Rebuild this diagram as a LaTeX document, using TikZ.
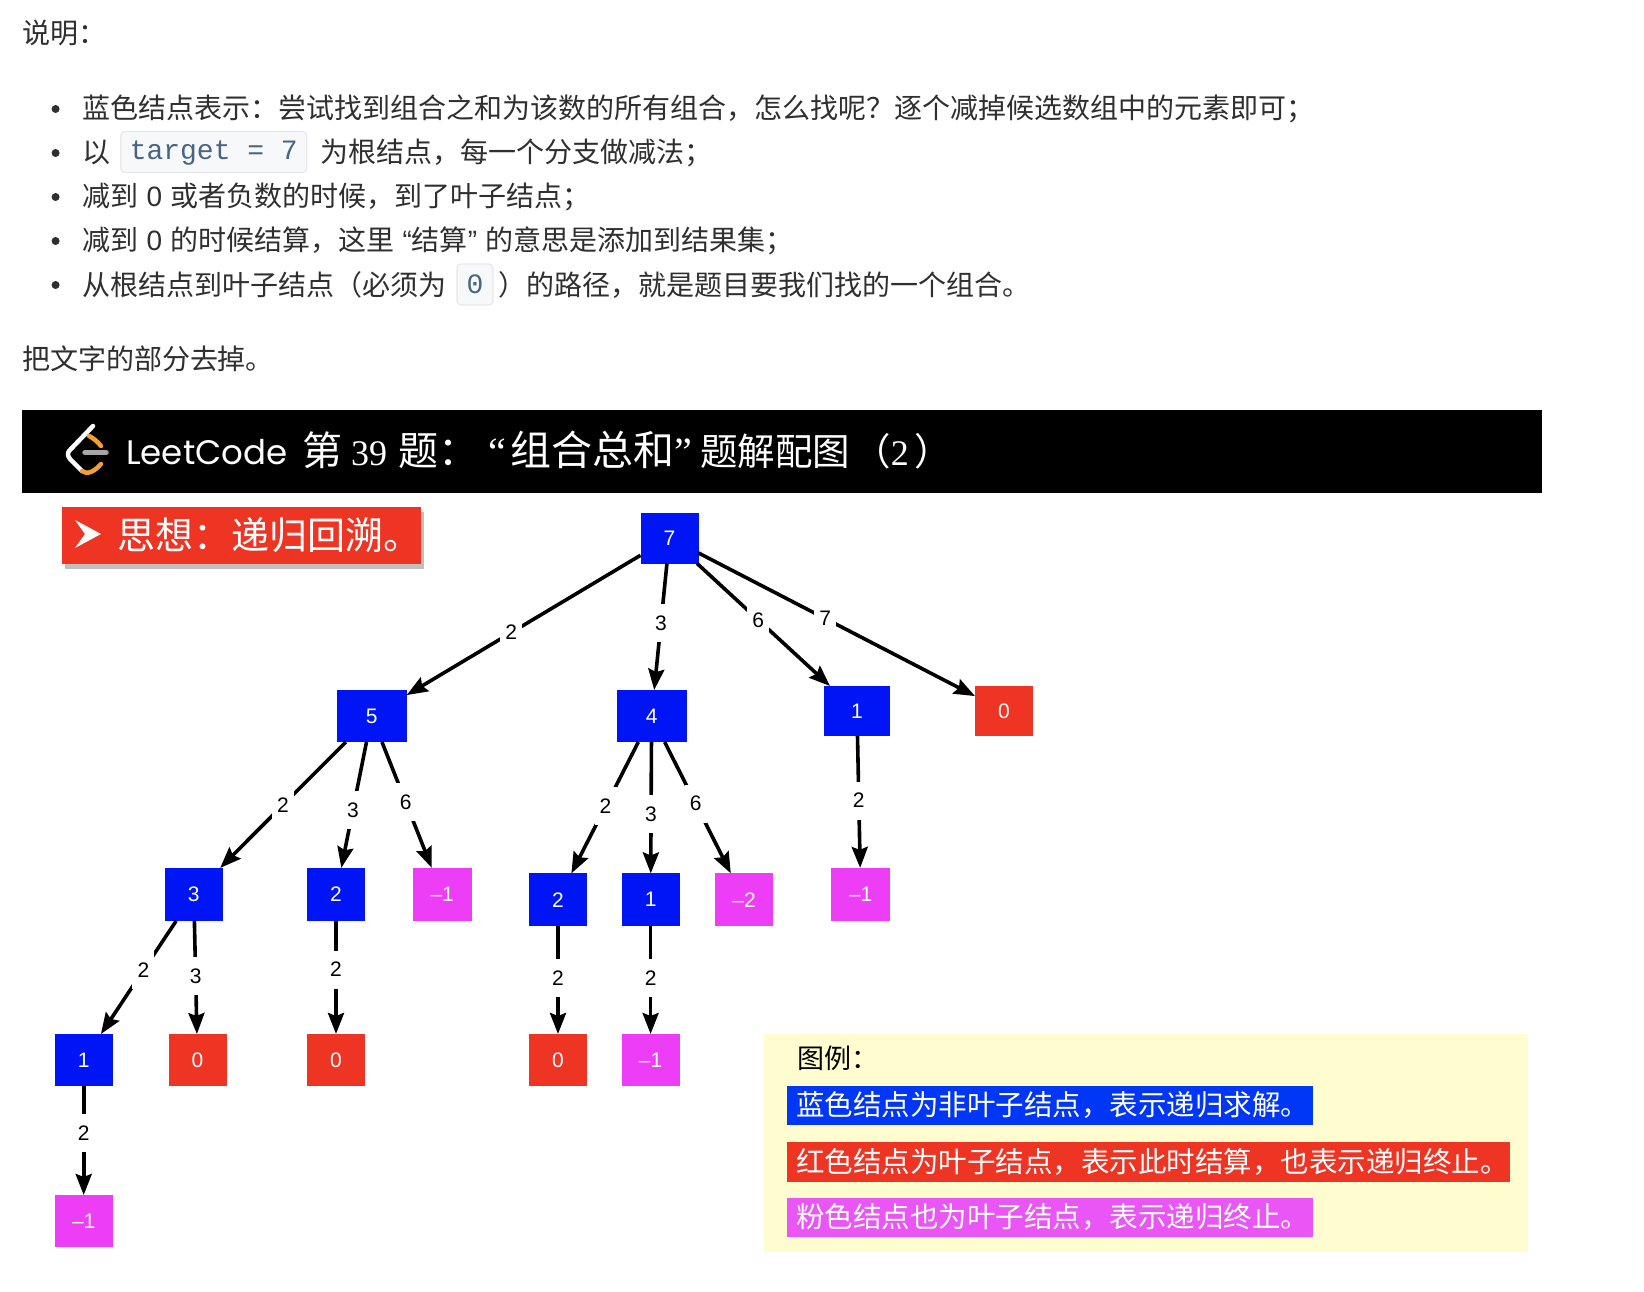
\documentclass[tikz,border=0pt]{standalone}
\usepackage{fontspec}
\setmainfont{Noto Sans CJK SC}
\setmonofont{Liberation Mono}
\newfontfamily\latf{Liberation Sans}
\newfontfamily\serf{Liberation Serif}
\newfontfamily\popf{Poppins}
\usetikzlibrary{arrows.meta}
\newcommand\fsz[1]{\fontsize{#1}{#1}\selectfont}
\newcommand\qcolon{^^^^ff1a}
\newcommand\qcomma{^^^^ff0c}
\newcommand\qques{^^^^ff1f}
\newcommand\qsemi{^^^^ff1b}
\newcommand\qlp{^^^^ff08}
\newcommand\qrp{^^^^ff09}
\definecolor{ink}{HTML}{2F2F2F}
\definecolor{codeink}{HTML}{476582}
\definecolor{chipbg}{HTML}{F6F8FA}
\definecolor{chipline}{HTML}{E6E9EC}
\definecolor{nblue}{HTML}{0015F5}
\definecolor{nred}{HTML}{EE3524}
\definecolor{npink}{HTML}{EE3DF6}
\definecolor{lblue}{HTML}{0036F5}
\definecolor{lpink}{HTML}{EA55F6}
\definecolor{lyellow}{HTML}{FFFDD0}
\definecolor{logogold}{HTML}{F0A030}
\tikzset{
  txt/.style={anchor=base west,inner sep=0pt,outer sep=0pt,text=ink,font=\fsz{28}},
  bulletdot/.style={circle,fill=ink,inner sep=0pt,minimum size=8pt},
  chip/.style={draw=chipline,fill=chipbg,rounded corners=4pt,line width=1.2pt,inner sep=0pt,text=codeink,font=\ttfamily\fsz{28}},
  tree/.style={inner sep=0pt,outer sep=0pt,text=white,font=\latf\fsz{21}},
  bnode/.style={tree,fill=nblue},
  rnode/.style={tree,fill=nred},
  pnode/.style={tree,fill=npink},
  edge/.style={line width=3.6pt,draw=black,-{Stealth[length=21pt,width=16pt,inset=3pt]}},
  lab/.style={fill=white,inner sep=0pt,minimum width=22pt,minimum height=38pt,text=black,font=\latf\fsz{21}},
  bar/.style={inner sep=0pt,outer sep=0pt,anchor=north west},
  bartext/.style={anchor=base west,inner sep=0pt,text=white,font=\fsz{28.5}},
}
\begin{document}
\begin{tikzpicture}[x=1pt,y=-1pt]
\useasboundingbox (0,0) rectangle (1644,1292);
\fill[white] (0,0) rectangle (1644,1292);

% intro text
\node[txt] (t0) at (22,44) {说明\qcolon};
\node[bulletdot] (b1) at (55.6,109) {};
\node[bulletdot] (b2) at (55.6,153) {};
\node[bulletdot] (b3) at (55.6,197) {};
\node[bulletdot] (b4) at (55.6,241) {};
\node[bulletdot] (b5) at (55.6,285) {};
\node[txt] (t1) at (82,119) {蓝色结点表示\qcolon 尝试找到组合之和为该数的所有组合\qcomma 怎么找呢\qques 逐个减掉候选数组中的元素即可\qsemi};
\node[txt] (t2a) at (82,163) {以};
\node[chip,minimum width=186pt,minimum height=41pt] (c1) at (213.8,152) {\raisebox{-8pt}[10pt][10pt]{target = 7}};
\node[txt] (t2b) at (320.8,163) {为根结点\qcomma 每一个分支做减法\qsemi};
\node[txt] (t3) at (82,207) {减到\hspace{8.5pt}{\latf 0}\hspace{8.5pt}或者负数的时候\qcomma 到了叶子结点\qsemi};
\node[txt] (t4) at (82,251) {减到\hspace{8.5pt}{\latf 0}\hspace{8.5pt}的时候结算\qcomma 这里\hspace{8pt}{\latf “}结算{\latf ”}\hspace{8pt}的意思是添加到结果集\qsemi};
\node[txt] (t5a) at (82,295) {从根结点到叶子结点\qlp 必须为};
\node[chip,minimum width=36pt,minimum height=41pt] (c2) at (475,284.5) {\raisebox{-9pt}[10pt][10pt]{0}};
\node[txt] (t5b) at (498,295) {\qrp 的路径\qcomma 就是题目要我们找的一个组合。};
\node[txt] (t6) at (22,369) {把文字的部分去掉。};

% banner
\node[bar,fill=black,minimum width=1520pt,minimum height=83pt] (banner) at (22,410) {};
\draw[white,line width=4.5pt,line cap=round,line join=round]
  (93,426) -- (69,451) .. controls (67,454) and (68,456) .. (70,459) -- (82,471);
\draw[logogold,line width=4.5pt,line cap=round]
  (82,471) .. controls (87,475) and (94,472) .. (101,464);
\draw[logogold,line width=4.5pt,line cap=round]
  (89,436) .. controls (93,438) and (97,441) .. (101,446);
\draw[gray!70,line width=5.5pt,line cap=round] (85,452.5) -- (106,452.5);
\node[anchor=base west,inner sep=0pt,text=white,font=\popf\fsz{34}] (lc) at (126,464) {LeetCode};
\node[anchor=base west,inner sep=0pt,text=white,font=\fsz{40}] (title) at (302,465)
  {第\hspace{9pt}{\serf\fsz{36}39}\hspace{11.6pt}题\qcolon\hspace{10pt}{\serf “}\hspace{4pt}{\fsz{41}组合总和}{\serf ”}\hspace{8pt}{\fsz{37.5}题解配图}\hspace{3pt}{\fsz{37.5}\qlp}{\serf\fsz{36}2}\hspace{6pt}{\fsz{37.5}\qrp}};

% idea box
\fill[black!45,opacity=.55] (65,512) rectangle (424,569);
\node[bar,fill=nred,minimum width=358.5pt,minimum height=57.5pt] (idea) at (62,506.5) {};
\fill[white] (75,520) -- (101,534) -- (75,548) -- (85,534) -- cycle;
\node[anchor=base west,inner sep=0pt,text=white,font=\fsz{38}] (ideat) at (117,549) {思想\qcolon 递归回溯。};

% tree nodes
\node[bnode,minimum width=58pt,minimum height=51pt] (n7) at (669.5,538) {7};
\node[bnode,minimum width=70pt,minimum height=52pt] (n5) at (371.7,716) {5};
\node[bnode,minimum width=70pt,minimum height=52pt] (n4) at (651.6,716) {4};
\node[bnode,minimum width=66pt,minimum height=50pt] (n1a) at (857,711) {1};
\node[rnode,minimum width=58pt,minimum height=50pt] (n0a) at (1004,711) {0};
\node[bnode,minimum width=58pt,minimum height=53pt] (n3) at (193.8,894.4) {3};
\node[bnode,minimum width=58pt,minimum height=53pt] (n2) at (336,894.4) {2};
\node[pnode,minimum width=59pt,minimum height=53pt] (nm1a) at (442.2,894.4) {–1};
\node[bnode,minimum width=58pt,minimum height=52.6pt] (n2b) at (558,899.7) {2};
\node[bnode,minimum width=58pt,minimum height=52.6pt] (n1b) at (650.6,899.7) {1};
\node[pnode,minimum width=58pt,minimum height=52.6pt] (nm2) at (744,899.7) {–2};
\node[pnode,minimum width=58.5pt,minimum height=53pt] (nm1b) at (860.7,894.4) {–1};
\node[bnode,minimum width=58pt,minimum height=52pt] (n1c) at (83.7,1060) {1};
\node[rnode,minimum width=58pt,minimum height=52pt] (n0b) at (197.5,1060) {0};
\node[rnode,minimum width=58pt,minimum height=52pt] (n0c) at (336,1060) {0};
\node[rnode,minimum width=58pt,minimum height=52pt] (n0d) at (558,1060) {0};
\node[pnode,minimum width=58pt,minimum height=52pt] (nm1c) at (650.6,1060) {–1};
\node[pnode,minimum width=58pt,minimum height=52pt] (nm1d) at (83.7,1221) {–1};

% edges
\draw[edge] (n7) -- node[lab,pos=.553] (e1) {2} (n5);
\draw[edge] (n7) -- node[lab,pos=.47] (e2) {3} (n4);
\draw[edge] (n7) -- node[lab,pos=.46] (e3) {6} (n1a);
\draw[edge] (n7) -- node[lab,pos=.458] (e4) {7} (n0a);
\draw[edge] (n5) -- node[lab,pos=.5] (e5) {2} (n3);
\draw[edge] (n5) -- node[lab,pos=.54] (e6) {3} (n2);
\draw[edge] (n5) -- node[lab,pos=.476] (e7) {6} (nm1a);
\draw[edge] (n4) -- node[lab,pos=.49] (e8) {2} (n2b);
\draw[edge] (n4) -- node[lab,pos=.55] (e9) {3} (n1b);
\draw[edge] (n4) -- node[lab,pos=.47] (e10) {6} (nm2);
\draw[edge] (n1a) -- node[lab,pos=.49] (e11) {2} (nm1b);
\draw[edge] (n3) -- node[lab,pos=.435] (e12) {2} (n1c);
\draw[edge] (n3) -- node[lab,pos=.49] (e13) {3} (n0b);
\draw[edge] (n2) -- node[lab,pos=.43] (e14) {2} (n0c);
\draw[edge] (n1c) -- node[lab,pos=.43] (e15) {2} (nm1d);
\draw[edge] (n2b) -- node[lab,pos=.48] (e16) {2} (n0d);
\draw[edge] (n1b) -- node[lab,pos=.48] (e17) {2} (nm1c);

% legend
\node[bar,fill=lyellow,minimum width=763.6pt,minimum height=218pt] (legend) at (764.3,1034) {};
\node[anchor=base west,inner sep=0pt,text=black,font=\fsz{27}] (legt) at (797,1068) {图例\qcolon};
\node[bar,fill=lblue,minimum width=526.3pt,minimum height=39pt] (l1) at (786.7,1086) {};
\node[bartext] (l1t) at (796,1115) {蓝色结点为非叶子结点\qcomma 表示递归求解。};
\node[bar,fill=nred,minimum width=723.3pt,minimum height=40pt] (l2) at (786.7,1142) {};
\node[bartext] (l2t) at (796,1172) {红色结点为叶子结点\qcomma 表示此时结算\qcomma 也表示递归终止。};
\node[bar,fill=lpink,minimum width=526.3pt,minimum height=39pt] (l3) at (786.7,1198) {};
\node[bartext] (l3t) at (796,1227) {粉色结点也为叶子结点\qcomma 表示递归终止。};
\end{tikzpicture}
\end{document}
